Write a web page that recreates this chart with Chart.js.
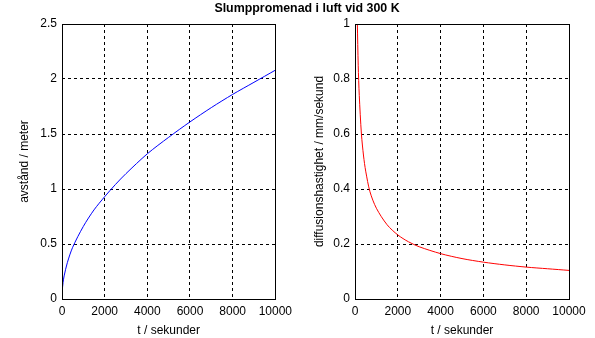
<!DOCTYPE html>
<html>
<head>
<meta charset="utf-8">
<script src="https://cdn.jsdelivr.net/npm/chart.js@4"></script>
<style>
  body { margin: 0; background: #fff; }
  #wrap { position: relative; width: 595px; height: 338px; }
  #title { position: absolute; left: 0; width: 614px; top: 0; text-align: center;
           font: bold 12.4px "Liberation Sans", Arial, sans-serif; line-height: 16px; }
  #c1 { position: absolute; left: 0; top: 0; }
  #c2 { position: absolute; left: 297px; top: 0; }
</style>
</head>
<body>
<div id="wrap">
  <canvas id="c1" width="297" height="338"></canvas>
  <canvas id="c2" width="298" height="338"></canvas>
  <div id="title">Slumppromenad i luft vid 300 K</div>
</div>
<script>
// avstånd (m) mot tid (s)
const tDist = [0, 10, 50, 100, 250, 500, 1000, 1500, 2000, 2500, 3000, 4000, 5000, 6000, 7000, 8000, 9000, 10000];
const dist  = [0, 0.07, 0.15, 0.21, 0.33, 0.47, 0.66, 0.81, 0.93, 1.04, 1.14, 1.32, 1.47, 1.61, 1.74, 1.86, 1.97, 2.08];

// diffusionshastighet (mm/s) mot tid (s)
const tSpeed = [100, 110, 150, 200, 300, 400, 500, 700, 1000, 1500, 2000, 2500, 3000, 4000, 5000, 6000, 7000, 8000, 9000, 10000];
const speed  = [1.04, 1.0, 0.85, 0.74, 0.6, 0.52, 0.465, 0.39, 0.33, 0.27, 0.233, 0.208, 0.19, 0.165, 0.147, 0.134, 0.124, 0.116, 0.11, 0.104];

const xTicks = [0, 2000, 4000, 6000, 8000, 10000];

Chart.defaults.font.family = '"Liberation Sans", Arial, sans-serif';
Chart.defaults.font.size = 12;
Chart.defaults.color = '#000';

const frame = {
  id: 'frame',
  afterDraw(chart) {
    const a = chart.chartArea, c = chart.ctx;
    c.save();
    c.strokeStyle = '#000';
    c.lineWidth = 1;
    c.strokeRect(Math.round(a.left) + 0.5, Math.round(a.top) + 0.5,
                 Math.round(a.right - a.left), Math.round(a.bottom - a.top));
    c.restore();
  }
};

const fmt = v => String(+(+v).toFixed(2));

function makeChart(id, xs, ys, color, yMax, yStep, yTitle, yWidth, padRight, titlePad) {
  return new Chart(document.getElementById(id), {
    type: 'line',
    data: {
      datasets: [{
        data: xs.map((x, i) => ({ x: x, y: ys[i] })),
        borderColor: color,
        borderWidth: 1,
        pointRadius: 0,
        tension: 0.3,
        fill: false
      }]
    },
    options: {
      responsive: false,
      animation: false,
      layout: { padding: { top: 24, right: padRight, left: 0, bottom: 0 } },
      plugins: { legend: { display: false }, tooltip: { enabled: false } },
      scales: {
        x: {
          type: 'linear', min: 0, max: 10000,
          afterBuildTicks: s => { s.ticks = xTicks.map(v => ({ value: v })); },
          afterFit: s => { s.height = 39; },
          ticks: { padding: 5, maxRotation: 0, autoSkip: false, callback: fmt },
          grid: { color: '#000', lineWidth: 1, drawTicks: false },
          border: { display: false, dash: [3, 3] },
          title: { display: true, text: 't / sekunder', padding: { top: 1, bottom: 0 } }
        },
        y: {
          min: 0, max: yMax,
          ticks: { stepSize: yStep, padding: 5, callback: fmt },
          afterFit: s => { s.width = yWidth; },
          grid: { color: '#000', lineWidth: 1, drawTicks: false },
          border: { display: false, dash: [3, 3] },
          title: { display: true, text: yTitle, padding: { top: titlePad, bottom: 0 } }
        }
      }
    },
    plugins: [frame]
  });
}

makeChart('c1', tDist, dist, '#0000ff', 2.5, 0.5, 'avstånd / meter', 62, 21, 17);
makeChart('c2', tSpeed, speed, '#ff0000', 1, 0.2, 'diffusionshastighet / mm/sekund', 58, 26, 15);
</script>
</body>
</html>
